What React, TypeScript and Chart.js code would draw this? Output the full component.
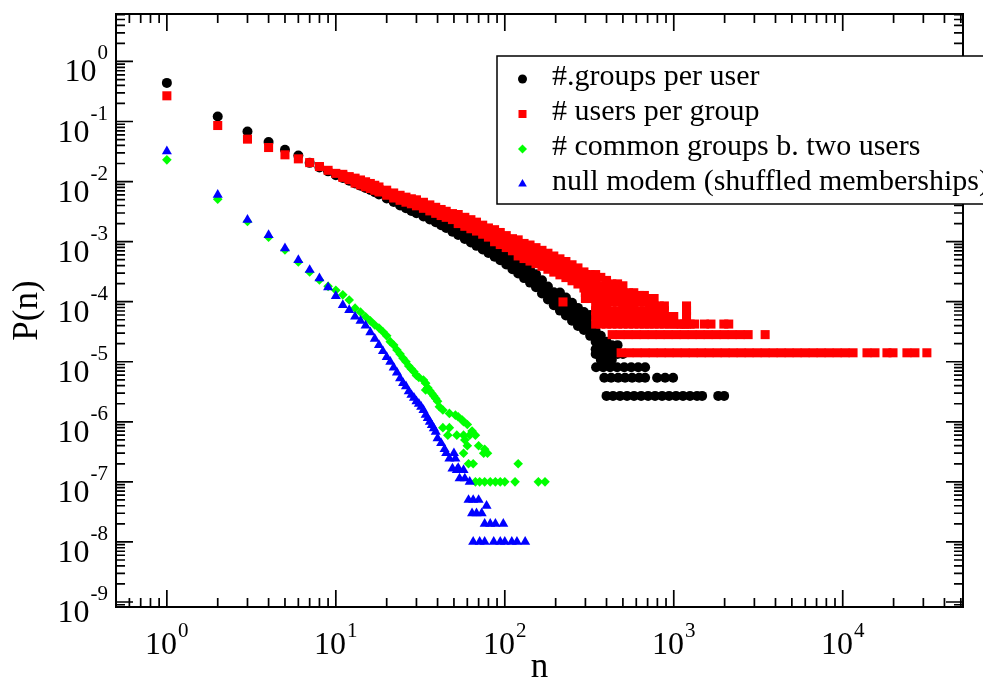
import React, { useEffect, useRef } from "react";
import { Chart, registerables } from "chart.js";

Chart.register(...registerables);

// ---------- axis ranges & ticks ----------
const X_MIN = 0.5;
const X_MAX = 51500;
const Y_MIN = 8.25e-10;
const Y_MAX = 6.17;

const xMajorTicks = [1, 10, 100, 1000, 10000];
const xTickExponents = ["0", "1", "2", "3", "4"];
const yMajorTicks = [1e-9, 1e-8, 1e-7, 1e-6, 1e-5, 1e-4, 1e-3, 1e-2, 1e-1, 1];
const yTickExponents = ["-9", "-8", "-7", "-6", "-5", "-4", "-3", "-2", "-1", "0"];

const xTitle = "n";
const yTitle = "P(n)";

const seriesLabels = [
  "#.groups per user",
  "# users per group",
  "# common groups b. two users",
  "null modem (shuffled memberships)",
];

// ---------- #.groups per user (black circles) [n, P(n)] ----------
const groupsHead: [number, number][] = [
  [1, 0.44], [2, 0.121], [3, 0.068], [4, 0.0454], [5, 0.0338], [6, 0.0271], [7, 0.0205], [8, 0.0172], [9, 0.0148], [10, 0.0128],
];
const groupsBand: [number, number][] = [
  [11, 1.148e-2], [11, 1.288e-2], [12, 1.031e-2], [12, 1.157e-2], [13, 9.33e-3], [13, 1.047e-2],
  [14, 8.55e-3], [14, 9.59e-3], [15, 7.85e-3], [15, 8.81e-3], [16, 7.24e-3], [16, 8.13e-3],
  [17, 6.63e-3], [17, 7.45e-3], [18, 6.12e-3], [18, 6.87e-3], [20, 5.25e-3], [20, 5.89e-3],
  [22, 4.57e-3], [22, 5.13e-3], [24, 4.01e-3], [24, 4.5e-3], [26, 3.6e-3], [26, 4.04e-3],
  [28, 3.25e-3], [28, 3.65e-3], [30, 2.97e-3], [30, 3.6e-3], [33, 2.62e-3], [33, 3.17e-3],
  [36, 2.34e-3], [36, 2.83e-3], [39, 2.1e-3], [39, 2.55e-3], [42, 1.88e-3], [42, 2.28e-3],
  [45, 1.69e-3], [45, 2.04e-3],
  [49, 1.46e-3], [49, 1.7e-3], [49, 1.99e-3], [53, 1.29e-3], [53, 1.5e-3], [53, 1.75e-3],
  [58, 1.11e-3], [58, 1.3e-3], [58, 1.51e-3], [63, 9.7e-4], [63, 1.13e-3], [63, 1.32e-3],
  [68, 8.51e-4], [68, 9.92e-4], [68, 1.16e-3], [74, 7.39e-4], [74, 8.62e-4], [74, 1.0e-3],
  [80, 6.46e-4], [80, 7.53e-4], [80, 8.78e-4], [87, 5.6e-4], [87, 6.79e-4], [87, 8.22e-4],
  [94, 4.9e-4], [94, 5.93e-4], [94, 7.19e-4], [102, 4.17e-4], [102, 5.05e-4], [102, 6.12e-4],
  [111, 3.47e-4], [111, 4.2e-4], [111, 5.09e-4], [120, 2.94e-4], [120, 3.56e-4], [120, 4.32e-4],
  [130, 2.47e-4], [130, 3.17e-4], [130, 4.07e-4], [141, 2.08e-4], [141, 2.67e-4], [141, 3.43e-4],
  [153, 1.745e-4], [153, 2.24e-4], [153, 2.87e-4], [166, 1.375e-4], [166, 1.765e-4], [166, 2.27e-4],
  [180, 1.088e-4], [180, 1.4e-4], [180, 1.79e-4], [195, 8.71e-5], [195, 1.12e-4], [195, 1.43e-4],
  [212, 7.11e-5], [212, 8.95e-5], [212, 1.13e-4], [212, 1.42e-4],
  [230, 5.87e-5], [230, 7.39e-5], [230, 9.3e-5], [230, 1.17e-4],
  [250, 4.8e-5], [250, 6.05e-5], [250, 7.62e-5], [250, 9.59e-5],
  [271, 3.95e-5], [271, 4.97e-5], [271, 6.26e-5], [271, 7.88e-5],
  [294, 3.38e-5], [294, 4.25e-5], [294, 5.34e-5], [294, 6.73e-5],
];
const groupsTail: [number, number][] = [
  [320, 6.0e-5], [320, 4.8e-5], [320, 4.05e-5], [320, 3.24e-5], [320, 2.7e-5],
  [345, 4.05e-5], [345, 3.24e-5], [345, 2.7e-5], [345, 2.16e-5], [345, 1.62e-5], [345, 1.35e-5],
  [370, 2.7e-5], [370, 2.16e-5], [370, 1.62e-5], [370, 1.35e-5], [370, 1.08e-5],
  [400, 2.16e-5], [400, 1.89e-5], [400, 1.62e-5], [400, 1.35e-5], [400, 1.08e-5],
  [430, 1.89e-5], [430, 1.62e-5], [430, 1.35e-5], [430, 1.08e-5],
  [465, 1.89e-5], [465, 1.35e-5], [500, 1.35e-5],
  [347, 8.1e-6], [382, 8.1e-6], [420, 8.1e-6], [462, 8.1e-6], [509, 8.1e-6], [560, 8.1e-6], [616, 8.1e-6], [677, 8.1e-6],
  [388, 5.4e-6], [426, 5.4e-6], [469, 5.4e-6], [515, 5.4e-6], [567, 5.4e-6], [624, 5.4e-6], [677, 5.4e-6], [797, 5.4e-6], [889, 5.4e-6], [991, 5.4e-6],
  [400, 2.7e-6], [437, 2.7e-6], [481, 2.7e-6], [529, 2.7e-6], [582, 2.7e-6], [641, 2.7e-6], [705, 2.7e-6], [775, 2.7e-6], [853, 2.7e-6],
  [938, 2.7e-6], [1031, 2.7e-6], [1134, 2.7e-6], [1247, 2.7e-6], [1373, 2.7e-6], [1472, 2.7e-6], [1833, 2.7e-6], [1987, 2.7e-6],
];

// ---------- # users per group (red squares) ----------
const usersHead: [number, number][] = [
  [1, 0.268], [2, 0.0858], [3, 0.0509], [4, 0.0369], [5, 0.0279], [6, 0.0239], [7, 0.0207], [8, 0.0178], [9, 0.0154], [10, 0.0137],
];
const usersBand: [number, number][] = [
  [11, 1.245e-2], [11, 1.32e-2], [11, 1.175e-2], [12, 1.14e-2], [12, 1.21e-2], [12, 1.076e-2],
  [13, 1.04e-2], [13, 1.14e-2], [13, 9.44e-3], [14, 9.66e-3], [14, 1.063e-2], [14, 8.78e-3],
  [15, 9.02e-3], [15, 9.92e-3], [15, 8.19e-3], [16, 8.45e-3], [16, 9.3e-3], [16, 7.67e-3],
  [17, 7.88e-3], [17, 8.68e-3], [17, 7.16e-3], [18, 7.39e-3], [18, 8.13e-3], [18, 6.71e-3],
  [20, 6.53e-3], [20, 7.19e-3], [20, 5.93e-3], [22, 5.87e-3], [22, 6.46e-3], [22, 5.33e-3],
  [24, 5.37e-3], [24, 5.91e-3], [24, 4.88e-3], [26, 4.99e-3], [26, 5.5e-3], [26, 4.54e-3],
  [28, 4.69e-3], [28, 5.17e-3], [28, 4.27e-3], [30, 4.43e-3], [30, 4.97e-3], [30, 3.95e-3],
  [33, 4.03e-3], [33, 4.52e-3], [33, 3.59e-3], [36, 3.65e-3], [36, 4.09e-3], [36, 3.25e-3],
  [39, 3.32e-3], [39, 3.73e-3], [39, 2.96e-3], [42, 3.05e-3], [42, 3.43e-3], [42, 2.72e-3],
  [45, 2.85e-3], [45, 3.2e-3], [45, 2.54e-3], [49, 2.61e-3], [49, 2.93e-3], [49, 2.33e-3],
  [53, 2.38e-3], [53, 2.83e-3], [53, 2.0e-3], [58, 2.14e-3], [58, 2.54e-3], [58, 1.8e-3],
  [63, 1.95e-3], [63, 2.32e-3], [63, 1.64e-3], [68, 1.78e-3], [68, 2.11e-3], [68, 1.5e-3],
  [74, 1.585e-3], [74, 1.88e-3], [74, 1.33e-3], [80, 1.42e-3], [80, 1.69e-3], [80, 1.19e-3],
  [87, 1.25e-3], [87, 1.58e-3], [87, 9.96e-4], [94, 1.13e-3], [94, 1.42e-3], [94, 8.95e-4],
  [102, 1.0e-3], [102, 1.26e-3], [102, 7.97e-4], [111, 8.89e-4], [111, 1.12e-3], [111, 7.05e-4],
  [120, 7.85e-4], [120, 1.07e-3], [120, 5.78e-4], [130, 7.11e-4], [130, 9.33e-4], [130, 5.23e-4],
  [141, 6.46e-4], [141, 8.78e-4], [141, 4.75e-4], [153, 5.84e-4], [153, 7.94e-4], [153, 4.3e-4],
  [166, 5.27e-4], [166, 7.16e-4], [166, 3.88e-4], [180, 4.71e-4], [180, 6.41e-4], [180, 3.47e-4],
  [195, 4.24e-4], [195, 5.76e-4], [195, 3.11e-4], [212, 3.8e-4], [212, 5.17e-4], [212, 2.8e-4],
  [230, 3.43e-4], [230, 4.66e-4], [230, 2.52e-4], [250, 3.03e-4], [250, 4.12e-4], [250, 2.23e-4],
  [271, 2.68e-4], [271, 3.65e-4], [271, 1.97e-4], [294, 2.3e-4], [294, 3.13e-4], [294, 1.69e-4],
];
const usersCloud: [number, number][] = [
  [221, 9.9e-5],
  [300, 2.83e-4], [300, 2.26e-4], [300, 1.84e-4], [300, 1.41e-4], [300, 1.13e-4],
  [320, 2.83e-4], [320, 2.26e-4], [320, 1.84e-4], [320, 1.41e-4], [320, 1.13e-4],
  [345, 2.83e-4], [345, 2.26e-4], [345, 1.84e-4], [345, 1.41e-4], [345, 1.13e-4], [345, 8.5e-5], [345, 7.07e-5], [345, 5.66e-5], [345, 4.24e-5],
  [370, 2.54e-4], [370, 1.84e-4], [370, 1.41e-4], [370, 1.13e-4], [370, 8.5e-5], [370, 7.07e-5], [370, 5.66e-5], [370, 4.24e-5],
  [400, 2.26e-4], [400, 1.84e-4], [400, 1.41e-4], [400, 1.13e-4], [400, 8.5e-5], [400, 7.07e-5], [400, 5.66e-5], [400, 4.24e-5],
  [430, 1.98e-4], [430, 1.55e-4], [430, 1.27e-4], [430, 9.9e-5], [430, 7.07e-5], [430, 5.66e-5], [430, 4.24e-5],
  [465, 1.98e-4], [465, 1.55e-4], [465, 1.27e-4], [465, 9.9e-5], [465, 7.07e-5], [465, 5.66e-5], [465, 4.24e-5],
  [500, 1.84e-4], [500, 1.41e-4], [500, 1.13e-4], [500, 8.5e-5], [500, 7.07e-5], [500, 5.66e-5], [500, 4.24e-5],
  [540, 1.41e-4], [540, 1.13e-4], [540, 8.5e-5], [540, 7.07e-5], [540, 5.66e-5], [540, 4.24e-5],
  [580, 1.41e-4], [580, 1.13e-4], [580, 8.5e-5], [580, 7.07e-5], [580, 5.66e-5], [580, 4.24e-5],
  [625, 1.27e-4], [625, 9.9e-5], [625, 7.07e-5], [625, 5.66e-5], [625, 4.24e-5],
  [670, 1.27e-4], [670, 9.9e-5], [670, 7.07e-5], [670, 5.66e-5], [670, 4.24e-5],
  [715, 1.13e-4], [715, 8.5e-5], [715, 7.07e-5], [715, 5.66e-5], [715, 4.24e-5],
  [765, 1.13e-4], [765, 8.5e-5], [765, 7.07e-5], [765, 5.66e-5], [765, 4.24e-5],
  [820, 8.5e-5], [820, 7.07e-5], [820, 5.66e-5], [820, 4.24e-5],
  [880, 8.5e-5], [880, 7.07e-5], [880, 5.66e-5], [880, 4.24e-5],
  [940, 5.66e-5], [940, 4.24e-5], [1000, 5.66e-5], [1000, 4.24e-5], [1060, 4.24e-5],
  [1190, 8.5e-5], [1190, 7.07e-5], [1190, 5.66e-5], [1190, 4.24e-5],
];
const usersTail: [number, number][] = [
  [1106, 4.24e-5], [1160, 4.24e-5], [1250, 4.24e-5], [1330, 4.24e-5], [1520, 4.24e-5], [1660, 4.24e-5], [1980, 4.24e-5], [2115, 4.24e-5],
  [432, 2.83e-5], [481, 2.83e-5], [537, 2.83e-5], [599, 2.83e-5], [668, 2.83e-5], [745, 2.83e-5], [830, 2.83e-5], [926, 2.83e-5], [1033, 2.83e-5], [1152, 2.83e-5],
  [1285, 2.83e-5], [1432, 2.83e-5], [1597, 2.83e-5], [1782, 2.83e-5], [1987, 2.83e-5], [2215, 2.83e-5], [2470, 2.83e-5], [2755, 2.83e-5], [3474, 2.83e-5],
  [488, 1.41e-5], [544, 1.41e-5], [607, 1.41e-5], [677, 1.41e-5], [755, 1.41e-5], [842, 1.41e-5], [939, 1.41e-5], [1047, 1.41e-5], [1168, 1.41e-5], [1303, 1.41e-5],
  [1453, 1.41e-5], [1620, 1.41e-5], [1806, 1.41e-5], [2014, 1.41e-5], [2245, 1.41e-5], [2504, 1.41e-5], [2792, 1.41e-5], [3113, 1.41e-5], [3474, 1.41e-5], [3873, 1.41e-5],
  [4318, 1.41e-5], [4815, 1.41e-5], [5370, 1.41e-5], [5988, 1.41e-5], [6680, 1.41e-5], [7446, 1.41e-5], [8300, 1.41e-5], [9268, 1.41e-5], [10330, 1.41e-5], [11510, 1.41e-5],
  [13920, 1.41e-5], [15520, 1.41e-5], [18270, 1.41e-5], [19840, 1.41e-5], [23990, 1.41e-5], [26750, 1.41e-5], [31480, 1.41e-5],
];

// ---------- # common groups b. two users (green diamonds) ----------
const commonPoints: [number, number][] = [
  [1, 0.023], [2, 0.0051], [3, 0.00216], [4, 0.00118], [5, 7.27e-4], [6, 4.59e-4], [7, 3.13e-4], [8, 2.3e-4], [9, 1.8e-4], [10, 1.55e-4],
  [11, 1.3e-4], [12, 1.07e-4], [13, 7.8e-5], [14, 6.7e-5], [15, 5.6e-5], [16, 4.8e-5], [17, 4.1e-5], [18, 3.65e-5], [19, 3.16e-5], [20, 2.7e-5],
  [21, 2.16e-5], [22, 1.9e-5], [23, 1.57e-5], [24, 1.34e-5], [25, 1.14e-5], [26, 1.0e-5], [27, 8.5e-6], [28, 7.6e-6], [29, 6.8e-6], [30, 5.9e-6],
  [31, 5.5e-6], [33, 4.95e-6], [34, 4.4e-6], [34, 3.4e-6], [35, 3.7e-6], [36, 3.3e-6], [37, 2.97e-6], [38, 2.7e-6], [39, 2.45e-6], [40, 2.2e-6],
  [41, 1.78e-6], [43, 1.57e-6], [47, 1.38e-6], [51, 1.29e-6], [53, 1.21e-6], [56, 1.07e-6], [57, 1.0e-6], [60, 9e-7], [43, 8e-7], [47, 8e-7],
  [46, 6e-7], [52, 6e-7], [57, 6e-7], [62, 6e-7], [67, 6e-7], [64, 7e-7], [58, 5e-7], [60, 4e-7], [70, 4e-7], [76, 3.5e-7],
  [57, 3e-7], [75, 3e-7], [79, 3e-7], [61, 2e-7], [65, 2e-7], [120, 2e-7],
  [67, 1e-7], [71, 1e-7], [76, 1e-7], [82, 1e-7], [88, 1e-7], [94, 1e-7], [100, 1e-7], [115, 1e-7], [158, 1e-7], [173, 1e-7],
];

// ---------- null modem (blue triangles) ----------
const nullPoints: [number, number][] = [
  [1, 0.032], [2, 0.006], [3, 0.0023], [4, 0.00129], [5, 7.76e-4], [6, 4.95e-4], [7, 3.38e-4], [8, 2.45e-4], [9, 1.74e-4], [10, 1.245e-4],
  [11, 8.81e-5], [12, 7.27e-5], [13, 5.62e-5], [14, 4.8e-5], [15, 4.0e-5], [16, 3.1e-5], [17, 2.4e-5], [18, 1.9e-5], [19, 1.5e-5], [20, 1.2e-5],
  [21, 1.0e-5], [22, 8e-6], [23, 6.6e-6], [24, 5.3e-6], [25, 4.4e-6], [26, 3.9e-6], [27, 3.2e-6], [28, 2.8e-6], [29, 2.5e-6], [30, 2.2e-6],
  [31, 2.0e-6], [32, 1.78e-6], [33, 1.57e-6], [34, 1.3e-6], [35, 1.15e-6], [36, 1.0e-6], [37, 8.8e-7], [38, 7.8e-7], [39, 6.8e-7], [40, 5.3e-7],
  [42, 4.4e-7], [44, 3.5e-7], [45, 3.0e-7], [47, 2.45e-7], [50, 3e-7], [51, 2.45e-7], [49, 1.67e-7], [52, 1.57e-7], [53, 1.7e-7], [57, 1.57e-7],
  [54, 1.14e-7], [58, 1.14e-7], [62, 1.0e-7], [61, 5e-8], [65, 5e-8], [70, 5e-8], [64, 3e-8], [68, 3e-8], [73, 3e-8], [78, 4e-8],
  [76, 2e-8], [82, 2e-8], [88, 2e-8], [98, 2e-8],
  [65, 1e-8], [71, 1e-8], [76, 1e-8], [86, 1e-8], [94, 1e-8], [100, 1e-8], [110, 1e-8], [118, 1e-8], [132, 1e-8],
];

const seriesColors = ["#000000", "#ff0000", "#00ff00", "#0000ff"];

// ---------- helpers ----------
const SERIF = '"Liberation Serif", "Times New Roman", Times, serif';

function toXY(list: [number, number][]) {
  return list.map(([n, p]) => ({ x: n, y: p }));
}

function minorTicks(majors: number[], lo: number, hi: number) {
  const out: number[] = [];
  const decades = [majors[0] / 10, ...majors];
  for (const d of decades) {
    for (let m = 2; m <= 9; m++) {
      const v = m * d;
      if (v >= lo * 0.999 && v <= hi * 1.001) out.push(v);
    }
  }
  return out;
}

function drawMarker(ctx: CanvasRenderingContext2D, style: string, x: number, y: number, color: string) {
  ctx.fillStyle = color;
  ctx.beginPath();
  if (style === "circle") {
    ctx.arc(x, y, 4.5, 0, Math.PI * 2);
  } else if (style === "rect") {
    ctx.rect(x - 4, y - 4, 8, 8);
  } else if (style === "rectRot") {
    ctx.moveTo(x - 4.5, y);
    ctx.lineTo(x, y - 4.5);
    ctx.lineTo(x + 4.5, y);
    ctx.lineTo(x, y + 4.5);
    ctx.closePath();
  } else {
    const r = 5;
    ctx.moveTo(x, y - r);
    ctx.lineTo(x + r * 0.866, y + r / 2);
    ctx.lineTo(x - r * 0.866, y + r / 2);
    ctx.closePath();
  }
  ctx.fill();
}

const graceAxesPlugin = {
  id: "graceAxes",
  afterDatasetsDraw(chart: any) {
    const { ctx, chartArea: a } = chart;
    const xs = chart.scales.x;
    const ys = chart.scales.y;
    ctx.save();
    ctx.strokeStyle = "#000";
    ctx.lineWidth = 1.7;
    ctx.beginPath();
    const xt = [
      ...xMajorTicks.map((v) => ({ v, major: true })),
      ...minorTicks(xMajorTicks, X_MIN, X_MAX).map((v) => ({ v, major: false })),
    ];
    for (const t of xt) {
      const px = xs.getPixelForValue(t.v);
      const len = t.major ? 17 : 9;
      ctx.moveTo(px, a.bottom);
      ctx.lineTo(px, a.bottom - len);
      ctx.moveTo(px, a.top);
      ctx.lineTo(px, a.top + len);
    }
    const yt = [
      ...yMajorTicks.map((v) => ({ v, major: true })),
      ...minorTicks(yMajorTicks, Y_MIN, Y_MAX).map((v) => ({ v, major: false })),
    ];
    for (const t of yt) {
      const py = ys.getPixelForValue(t.v);
      const len = t.major ? 17 : 9;
      ctx.moveTo(a.left, py);
      ctx.lineTo(a.left + len, py);
      ctx.moveTo(a.right, py);
      ctx.lineTo(a.right - len, py);
    }
    ctx.stroke();
    ctx.lineWidth = 2;
    ctx.strokeRect(a.left, a.top, a.right - a.left, a.bottom - a.top);

    // tick labels
    ctx.fillStyle = "#000";
    ctx.textBaseline = "alphabetic";
    ctx.textAlign = "left";
    const bigFont = `32px ${SERIF}`;
    const supFont = `21px ${SERIF}`;
    xMajorTicks.forEach((v, i) => {
      const px = xs.getPixelForValue(v);
      ctx.font = bigFont;
      const w10 = ctx.measureText("10").width;
      ctx.font = supFont;
      const ws = ctx.measureText(xTickExponents[i]).width;
      const start = px - (w10 + ws + 1) / 2;
      ctx.font = bigFont;
      ctx.fillText("10", start, a.bottom + 47);
      ctx.font = supFont;
      ctx.fillText(xTickExponents[i], start + w10 + 1, a.bottom + 30);
    });
    yMajorTicks.forEach((v, i) => {
      const py = ys.getPixelForValue(v);
      ctx.font = supFont;
      const ws = ctx.measureText(yTickExponents[i]).width;
      const right = a.left - 8;
      ctx.fillText(yTickExponents[i], right - ws, py - 2);
      ctx.font = bigFont;
      const w10 = ctx.measureText("10").width;
      ctx.fillText("10", right - ws - 1 - w10, py + 20);
    });

    // axis titles
    ctx.font = `35px ${SERIF}`;
    ctx.textAlign = "center";
    ctx.fillText(xTitle, (a.left + a.right) / 2, a.bottom + 70);
    ctx.save();
    ctx.translate(37, (a.top + a.bottom) / 2);
    ctx.rotate(-Math.PI / 2);
    ctx.fillText(yTitle, 0, 0);
    ctx.restore();
    ctx.restore();
  },
};

const graceLegendPlugin = {
  id: "graceLegend",
  afterDraw(chart: any) {
    const { ctx, chartArea: a } = chart;
    const lx = a.left + 381;
    const ly = a.top + 42;
    ctx.save();
    ctx.fillStyle = "#fff";
    ctx.fillRect(lx, ly, 700, 148);
    ctx.strokeStyle = "#000";
    ctx.lineWidth = 1.5;
    ctx.strokeRect(lx, ly, 700, 148);
    const styles = ["circle", "rect", "rectRot", "triangle"];
    ctx.font = `30px ${SERIF}`;
    ctx.textAlign = "left";
    ctx.textBaseline = "alphabetic";
    seriesLabels.forEach((label, i) => {
      const base = ly + 29 + i * 35;
      drawMarker(ctx, styles[i], lx + 25.5, base - 6, seriesColors[i]);
      ctx.fillStyle = "#000";
      ctx.fillText(label, lx + 55, base);
    });
    ctx.restore();
  },
};

export default function App() {
  const canvasRef = useRef<HTMLCanvasElement | null>(null);

  useEffect(() => {
    const canvas = canvasRef.current;
    if (!canvas) return;
    const chart = new Chart(canvas, {
      type: "scatter",
      data: {
        datasets: [
          {
            label: seriesLabels[0],
            data: toXY([...groupsHead, ...groupsBand, ...groupsTail]),
            pointStyle: "circle",
            pointRadius: 5,
            backgroundColor: seriesColors[0],
            borderColor: seriesColors[0],
            borderWidth: 0,
            order: 4,
          },
          {
            label: seriesLabels[1],
            data: toXY([...usersHead, ...usersBand, ...usersCloud, ...usersTail]),
            pointStyle: "rect",
            pointRadius: 6.4,
            backgroundColor: seriesColors[1],
            borderColor: seriesColors[1],
            borderWidth: 0,
            order: 3,
          },
          {
            label: seriesLabels[2],
            data: toXY(commonPoints),
            pointStyle: "rectRot",
            pointRadius: 4.8,
            backgroundColor: seriesColors[2],
            borderColor: seriesColors[2],
            borderWidth: 0,
            order: 2,
          },
          {
            label: seriesLabels[3],
            data: toXY(nullPoints),
            pointStyle: "triangle",
            pointRadius: 5.8,
            backgroundColor: seriesColors[3],
            borderColor: seriesColors[3],
            borderWidth: 0,
            order: 1,
          },
        ],
      },
      options: {
        responsive: false,
        animation: false,
        devicePixelRatio: 1,
        events: [],
        layout: { padding: { left: 116, top: 14, right: 20, bottom: 70 } },
        plugins: {
          legend: { display: false },
          tooltip: { enabled: false },
        },
        scales: {
          x: { type: "logarithmic", min: X_MIN, max: X_MAX, display: false },
          y: { type: "logarithmic", min: Y_MIN, max: Y_MAX, display: false },
        },
      },
      plugins: [graceAxesPlugin, graceLegendPlugin],
    } as any);
    return () => chart.destroy();
  }, []);

  return (
    <div style={{ position: "absolute", left: 0, top: 0, width: 983, height: 677, background: "#fff" }}>
      <canvas ref={canvasRef} width={983} height={677} style={{ display: "block" }} />
    </div>
  );
}
